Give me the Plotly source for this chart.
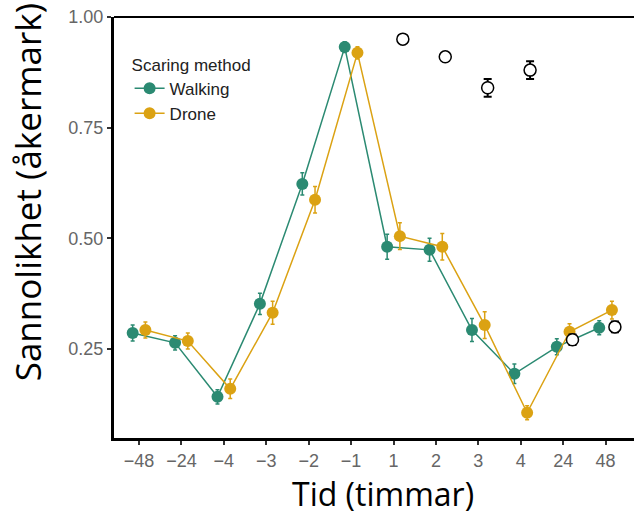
import plotly.graph_objects as go

# categories on the time axis (hours)
tid_labels = ["\u221248", "\u221224", "\u22124", "\u22123", "\u22122", "\u22121", "1", "2", "3", "4", "24", "48"]

walking = [0.286, 0.264, 0.142, 0.352, 0.623, 0.932, 0.481, 0.474, 0.293, 0.194, 0.255, 0.298]
walking_err = [0.018, 0.016, 0.016, 0.024, 0.025, 0.012, 0.028, 0.026, 0.026, 0.022, 0.018, 0.016]

drone = [0.293, 0.268, 0.160, 0.332, 0.587, 0.919, 0.505, 0.481, 0.304, 0.106, 0.289, 0.338]
drone_err = [0.018, 0.018, 0.022, 0.026, 0.030, 0.014, 0.030, 0.030, 0.030, 0.016, 0.018, 0.020]

# reference (open circles), only after the scaring event
ref_labels = ["1", "2", "3", "4", "24", "48"]
ref_vals = [0.950, 0.910, 0.840, 0.880, 0.271, 0.300]
ref_err = [0.006, 0.006, 0.020, 0.020, 0.012, 0.012]

teal = "#2b8a72"
gold = "#dba213"
dodge = 0.15

idx = list(range(len(tid_labels)))
x_walk = [i - dodge for i in idx]
x_drone = [i + dodge for i in idx]
x_ref = [tid_labels.index(l) + 0.22 for l in ref_labels]

fig = go.Figure()

fig.add_trace(go.Scatter(
    x=x_walk, y=walking, name="Walking", mode="lines+markers",
    line=dict(color=teal, width=1.5),
    marker=dict(color=teal, size=12),
    error_y=dict(type="data", array=walking_err, color=teal, thickness=1.5, width=2),
))
fig.add_trace(go.Scatter(
    x=x_drone, y=drone, name="Drone", mode="lines+markers",
    line=dict(color=gold, width=1.5),
    marker=dict(color=gold, size=12),
    error_y=dict(type="data", array=drone_err, color=gold, thickness=1.5, width=2),
))
fig.add_trace(go.Scatter(
    x=x_ref, y=ref_vals, mode="markers", showlegend=False,
    marker=dict(color="white", size=12, line=dict(color="black", width=1.5)),
    error_y=dict(type="data", array=ref_err, color="black", thickness=2, width=4),
))

# top frame line
fig.add_shape(type="line", xref="paper", yref="paper", x0=0, x1=1, y0=1, y1=1,
              line=dict(color="black", width=2))

fig.update_layout(
    width=634, height=518,
    margin=dict(l=114, r=0, t=17, b=80),
    paper_bgcolor="white", plot_bgcolor="white",
    font=dict(family="Liberation Sans, Arial", color="#666666"),
    showlegend=True,
    legend=dict(
        title=dict(text="Scaring method", font=dict(size=17, color="#222222")),
        font=dict(size=17, color="#222222"),
        x=0.03, y=0.925, xanchor="left", yanchor="top",
        bgcolor="rgba(0,0,0,0)", tracegroupgap=0,
    ),
    xaxis=dict(
        range=[-0.59, 11.67], tickmode="array", tickvals=idx, ticktext=tid_labels,
        showgrid=False, zeroline=False, showline=True, linecolor="black", linewidth=3,
        ticks="outside", ticklen=4, tickcolor="#333333", tickwidth=1.5,
        tickfont=dict(size=18, color="#666666"),
    ),
    yaxis=dict(
        range=[0.049, 1.0], tickvals=[0.25, 0.5, 0.75, 1.0],
        ticktext=["0.25", "0.50", "0.75", "1.00"],
        showgrid=False, zeroline=False, showline=True, linecolor="black", linewidth=3,
        ticks="outside", ticklen=4, tickcolor="#333333", tickwidth=1.5,
        tickfont=dict(size=18, color="#666666"),
    ),
    annotations=[
        dict(text="Sannolikhet (åkermark)", xref="paper", yref="paper",
             x=-0.167, y=0.584, textangle=-90, showarrow=False,
             xanchor="center", yanchor="middle",
             font=dict(family="Open Sans", size=35, color="black")),
        dict(text="Tid (timmar)", xref="paper", yref="paper",
             x=0.518, y=-0.1876, showarrow=False, xanchor="center", yanchor="bottom",
             font=dict(family="Open Sans", size=32, color="black")),
    ],
)

fig.write_html("out.html", config={"displayModeBar": False},
               post_script="document.body.style.margin='0';")
